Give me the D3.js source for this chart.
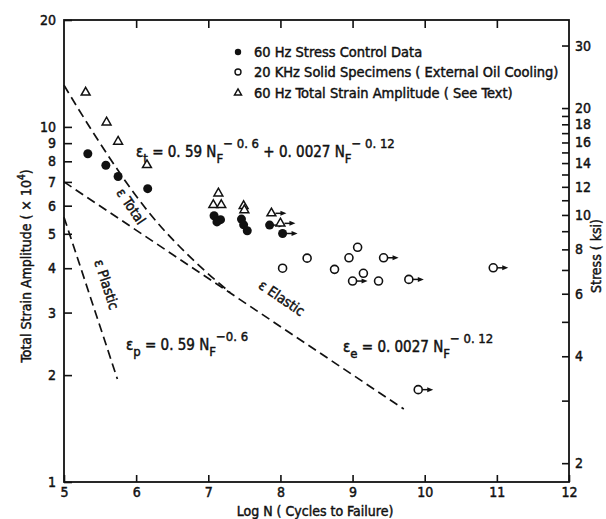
<!DOCTYPE html>
<html><head><meta charset="utf-8">
<script src="https://cdn.jsdelivr.net/npm/d3@7/dist/d3.min.js"></script>
<style>
body{margin:0;background:#fff}
text{font-family:"DejaVu Sans Condensed","DejaVu Sans",sans-serif;font-stretch:condensed;fill:#111;stroke:#111;stroke-width:0.45px}
</style>
</head><body>
<svg id="c" width="606" height="519"></svg>
<script>
// ---- data ----
const xTicks = [5, 6, 7, 8, 9, 10, 11, 12];
const yTicks = [1, 2, 3, 4, 5, 6, 7, 8, 9, 10, 20];
const stressLabeled = [2, 4, 6, 8, 10, 12, 14, 16, 18, 20, 30];
const stressMinor = [3, 5, 7, 9, 11, 13, 15, 17, 19];
const stressPerStrain = 1.77; // ksi per 1e-4 strain

const stressControl = [[5.33,8.4],[5.58,7.8],[5.75,7.25],[6.16,6.7],[7.08,5.62],[7.17,5.48],[7.12,5.40],[7.46,5.5],[7.49,5.3],[7.54,5.1]];
const stressControlRunout = [[7.85,5.29],[8.03,5.01]];
const solidSpecimens = [[8.03,4.0],[8.37,4.27],[8.75,3.97],[8.95,4.28],[9.07,4.58],[9.15,3.87],[9.36,3.68]];
const solidRunout = [[9.0,3.68],[9.43,4.28],[9.78,3.72],[10.95,4.01],[9.91,1.82]];
const totalStrain = [[5.30,12.5],[5.59,10.3],[5.75,9.09],[6.15,7.81],[7.14,6.5],[7.07,6.03],[7.18,6.03],[7.49,5.99],[7.50,5.83]];
const totalStrainRunout = [[7.875,5.71],[8.0,5.35]];

const plasticLine = [[5,5.57],[5.74,1.95]];
const elasticLine = [[5,7.0],[9.71,1.605]];
const totalCurve = [[5,13.1],[5.41,9.6],[6.15,5.83],[6.89,4.04],[7.3,3.42]];

const legendItems = ["60 Hz Stress Control Data","20 KHz Solid Specimens ( External Oil Cooling)","60 Hz Total Strain Amplitude ( See Text)"];

// ---- drawing ----
const FONT = '"DejaVu Sans Condensed","DejaVu Sans",sans-serif';
const svg = d3.select("#c");
const L = 64, R = 569, T = 20, B = 482;
const x = d3.scaleLinear().domain([5,12]).range([L,R]);
const y = d3.scaleLog().domain([1,20]).range([B,T]);
const yS = d3.scaleLog().domain([1*stressPerStrain, 20*stressPerStrain]).range([B,T]);

const ink = "#111";
// frame
svg.append("rect").attr("x",L).attr("y",T).attr("width",R-L).attr("height",B-T)
  .attr("fill","none").attr("stroke",ink).attr("stroke-width",1.8);

// bottom axis
const gx = svg.append("g").attr("transform",`translate(0,${B})`)
  .call(d3.axisBottom(x).tickValues(xTicks).tickSize(-7).tickPadding(5).tickFormat(d3.format("d")));
// top ticks
const gt = svg.append("g").attr("transform",`translate(0,${T})`)
  .call(d3.axisTop(x).tickValues(xTicks.slice(1,-1)).tickSize(-8).tickFormat(""));
// left axis
const gy = svg.append("g").attr("transform",`translate(${L},0)`)
  .call(d3.axisLeft(y).tickValues(yTicks).tickSize(-8).tickPadding(8).tickFormat(d3.format("d")));
// right axis
const gr = svg.append("g").attr("transform",`translate(${R},0)`)
  .call(d3.axisRight(yS).tickValues(stressLabeled).tickSize(-7).tickPadding(6).tickFormat(d3.format("d")));
const gr2 = svg.append("g").attr("transform",`translate(${R},0)`)
  .call(d3.axisRight(yS).tickValues(stressMinor).tickSize(-7).tickFormat(""));
[gx,gt,gy,gr,gr2].forEach(g=>{
  g.select(".domain").remove();
  g.selectAll(".tick line").attr("stroke",ink).attr("stroke-width",1.6);
  g.selectAll("text").attr("font-size",14).attr("fill",ink)
   .attr("font-family",FONT).style("font-stretch","condensed");
});

// axis titles
const yt = svg.append("text").attr("transform","translate(31,266) rotate(-90)").attr("text-anchor","middle")
  .attr("font-size",14);
yt.append("tspan").text("Total Strain Amplitude ( \u00d7 10");
yt.append("tspan").attr("dy",-6).attr("font-size",10).text("4");
yt.append("tspan").attr("dy",6).text(")");
svg.append("text").attr("x",315).attr("y",516).attr("text-anchor","middle")
  .attr("font-size",14).text("Log N ( Cycles to Failure)");
svg.append("text").attr("transform","translate(601,256) rotate(-90)").attr("text-anchor","middle")
  .attr("font-size",14).text("Stress ( ksi)");

// dashed lines
const line = d3.line().x(d=>x(d[0])).y(d=>y(d[1]));
const dash = "9,5";
svg.append("path").attr("d",line(plasticLine)).attr("fill","none").attr("stroke",ink).attr("stroke-width",1.7).attr("stroke-dasharray",dash);
svg.append("path").attr("d",line(elasticLine)).attr("fill","none").attr("stroke",ink).attr("stroke-width",1.7).attr("stroke-dasharray",dash);
svg.append("path").attr("d",line.curve(d3.curveMonotoneX)(totalCurve)).attr("fill","none").attr("stroke",ink).attr("stroke-width",1.7).attr("stroke-dasharray",dash);

// line labels
function rotLabel(cx,cy,ang,txt){
  svg.append("text").attr("transform",`translate(${cx},${cy}) rotate(${ang})`).attr("text-anchor","middle")
    .attr("font-size",14).text(txt);
}
rotLabel(127,209,56,"\u03b5 Total");
rotLabel(102,286,72,"\u03b5 Plastic");
rotLabel(279,302,34,"\u03b5 Elastic");

// equations
function eq(x0,y0,parts){
  const t = svg.append("text").attr("x",x0).attr("y",y0).attr("font-size",15);
  let cur = 0;
  parts.forEach(p=>{
    const off = p[1]; // 0 normal, 1 sub, -1 sup
    const target = off===1?6:(off===-1?-9:0);
    const s = t.append("tspan").attr("dy",target-cur).text(p[0]);
    if(off!==0) s.attr("font-size",13);
    cur = target;
  });
}
eq(136,157,[["\u03b5",0],["t",1],[" = 0. 59 N",0],["F",1],["\u2212 0. 6",-1],["  + 0. 0027 N",0],["F",1],["\u2212 0. 12",-1]]);
eq(126,350,[["\u03b5",0],["p",1],[" = 0. 59  N",0],["F",1],["\u22120. 6",-1]]);
eq(343,352,[["\u03b5",0],["e",1],[" = 0. 0027 N",0],["F",1],["\u2212 0. 12",-1]]);

// markers
const tri = d3.symbol().type(d3.symbolTriangle).size(34);
function arrow(d, r){
  const cx = x(d[0]), cy = y(d[1]);
  svg.append("line").attr("x1",cx+r).attr("x2",cx+r+7).attr("y1",cy).attr("y2",cy).attr("stroke",ink).attr("stroke-width",1.5);
  svg.append("path").attr("d",`M${cx+r+11},${cy} L${cx+r+5},${cy-2.5} L${cx+r+5},${cy+2.5} Z`).attr("fill",ink);
}
svg.selectAll(".sc").data(stressControl.concat(stressControlRunout)).join("circle")
  .attr("cx",d=>x(d[0])).attr("cy",d=>y(d[1])).attr("r",4.5).attr("fill",ink);
stressControlRunout.forEach(d=>arrow(d,4));
svg.selectAll(".so").data(solidSpecimens.concat(solidRunout)).join("circle")
  .attr("cx",d=>x(d[0])).attr("cy",d=>y(d[1])).attr("r",4).attr("fill","#fff").attr("stroke",ink).attr("stroke-width",1.6);
solidRunout.forEach(d=>arrow(d,4));
svg.selectAll(".ts").data(totalStrain.concat(totalStrainRunout)).join("path")
  .attr("d",tri).attr("transform",d=>`translate(${x(d[0])},${y(d[1])})`)
  .attr("fill","#fff").attr("stroke",ink).attr("stroke-width",1.5);
totalStrainRunout.forEach(d=>arrow(d,4));

// legend
const lg = svg.append("g");
const ly = [52,72,93];
lg.append("circle").attr("cx",238).attr("cy",ly[0]).attr("r",3.2).attr("fill",ink);
lg.append("circle").attr("cx",238).attr("cy",ly[1]).attr("r",3).attr("fill","#fff").attr("stroke",ink).attr("stroke-width",1.4);
lg.append("path").attr("d",d3.symbol().type(d3.symbolTriangle).size(22)()).attr("transform",`translate(238,${ly[2]})`)
  .attr("fill","#fff").attr("stroke",ink).attr("stroke-width",1.4);
legendItems.forEach((s,i)=>{
  lg.append("text").attr("x",254).attr("y",ly[i]+5).attr("font-size",14.5).text(s);
});
</script>
</body></html>
